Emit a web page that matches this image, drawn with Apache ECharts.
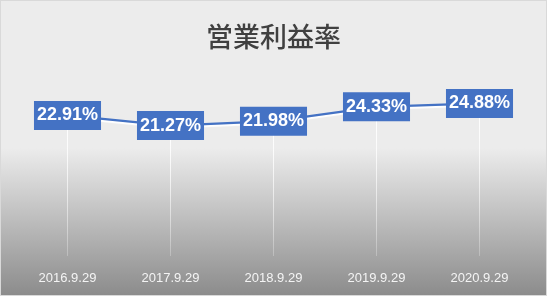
<!DOCTYPE html>
<html><head><meta charset="utf-8">
<script src="https://cdn.jsdelivr.net/npm/echarts@6/dist/echarts.min.js"></script>
<style>html,body{margin:0;padding:0;background:#fff}#c{width:547px;height:296px;box-sizing:border-box;border:1px solid #d9d9d9}</style>
</head><body><div id="c"></div>
<script>
const categories = ['2016.9.29','2017.9.29','2018.9.29','2019.9.29','2020.9.29'];
const margins = [22.91, 21.27, 21.98, 24.33, 24.88];
const chart = echarts.init(document.getElementById('c'), null, {renderer:'canvas'});
chart.setOption({
  animation:false,
  backgroundColor:{type:'linear',x:0,y:0,x2:0,y2:1,colorStops:[
    {offset:0,color:'#ececec'},{offset:0.5,color:'#ececec'},{offset:1,color:'#8c8c8c'}]},
  title:{text:'営業利益率',left:'center',top:17,
    textStyle:{fontFamily:'Noto Sans CJK JP',fontSize:27,fontWeight:500,color:'#404040'}},
  grid:{left:15,right:15,top:71,bottom:39},
  xAxis:{type:'category',data:categories,boundaryGap:true,
    axisLine:{show:false},axisTick:{show:false},splitLine:{show:false},
    axisLabel:{color:'#f4f4f4',fontSize:13,fontFamily:'Liberation Sans',margin:16}},
  yAxis:{type:'value',min:0,max:30,show:false,splitLine:{show:false}},
  series:[
    {type:'bar',data:margins,barWidth:1,silent:true,z:1,
      itemStyle:{color:{type:'linear',x:0,y:0,x2:0,y2:1,colorStops:[
        {offset:0,color:'rgba(255,255,255,1)'},{offset:1,color:'rgba(255,255,255,0.25)'}]}}},
    {type:'line',data:margins,symbol:'circle',symbolSize:1,showSymbol:true,z:3,
      itemStyle:{color:'#4472C4'},
      lineStyle:{color:'#4472C4',width:2.25,shadowColor:'#ffffff',shadowBlur:1,shadowOffsetY:2},
      label:{show:true,position:'inside',formatter:p=>p.value.toFixed(2)+'%',
        color:'#fff',fontWeight:'bold',fontSize:18,fontFamily:'Liberation Sans',
        backgroundColor:'#4472C4',padding:[6,3,5,3]}}
  ]
});
</script></body></html>
